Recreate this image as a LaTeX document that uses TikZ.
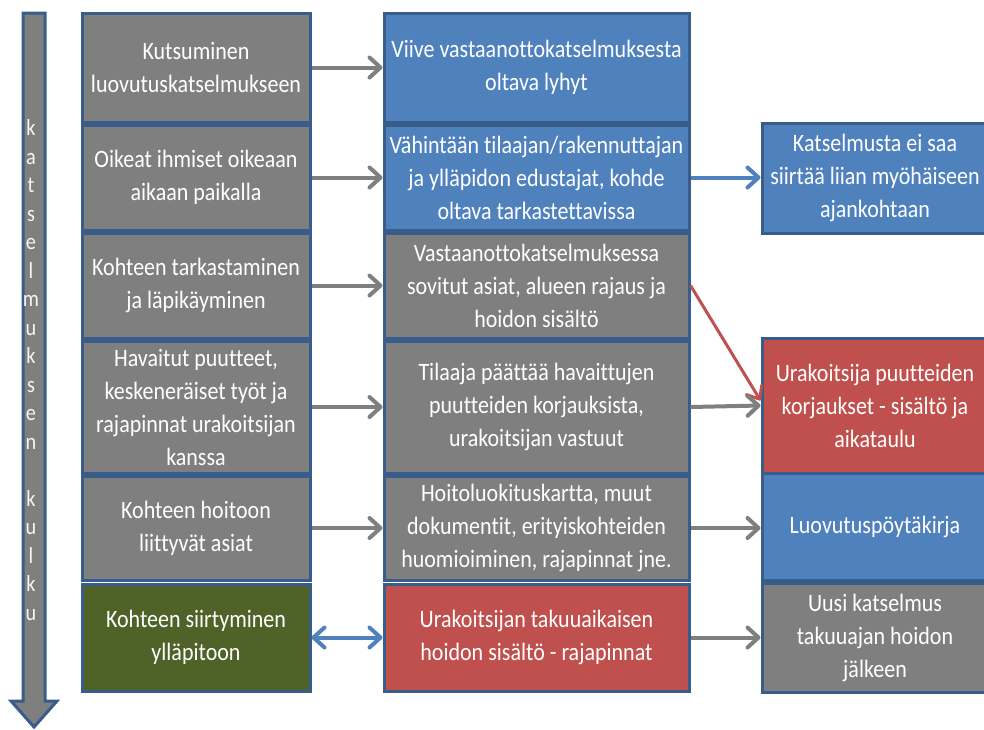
\documentclass[tikz,border=0pt]{standalone}
\usepackage{fontspec}
\setmainfont{Carlito}[FakeStretch=0.88, Ligatures={NoCommon}]
\usetikzlibrary{arrows.meta}
\definecolor{boxgray}{HTML}{7F7F7F}
\definecolor{boxblue}{HTML}{4F81BD}
\definecolor{boxred}{HTML}{C0504D}
\definecolor{boxgreen}{HTML}{4F6228}
\definecolor{edgeblue}{HTML}{385D8A}
\tikzset{
  barb/.tip={Straight Barb[length=11pt,width=20pt,line cap=round,line join=round]},
  thinbarb/.tip={Straight Barb[length=11pt,width=18pt,line cap=round,line join=round]},
}

\begin{document}
\begin{tikzpicture}[x=1pt,y=-1pt,
  stage/.style={draw=edgeblue, line width=3pt, text=white, align=center,
    inner sep=0pt, font=\fontsize{25}{33}\selectfont},
  col1/.style={stage, minimum width=228pt},
  col2/.style={stage, minimum width=305pt},
  col3/.style={stage, minimum width=226pt},
  flow/.style={draw=boxgray, line width=4pt, -{barb}},
  blueflow/.style={draw=boxblue, line width=4pt, -{barb}},
  bothflow/.style={draw=boxblue, line width=4pt, {barb}-{barb}},
  redflow/.style={draw=boxred, line width=3pt, -{thinbarb}},
]
\useasboundingbox (0,0) rectangle (984,729);

% timeline arrow on the left
\draw[fill=boxgray, draw=edgeblue, line width=3pt, line join=miter]
  (23,13) -- (45,13) -- (45,701) -- (57,701) -- (34,727) -- (11,701) -- (23,701) -- cycle;
\node[text=white!92!gray, align=center, inner sep=0pt,
      font=\fontsize{23}{28.5}\selectfont] (flowlabel) at (31,370)
  {k\\a\\t\\s\\e\\l\\m\\u\\k\\s\\e\\n\\[28.5pt]k\\u\\l\\k\\u};

% first column
\node[col1, fill=boxgray, minimum height=109pt] (a1) at (196,67.5)
  {Kutsuminen\\luovutuskatselmukseen};
\node[col1, fill=boxgray, minimum height=105pt] (a2) at (196,177.5)
  {Oikeat ihmiset oikeaan\\aikaan paikalla};
\node[col1, fill=boxgray, minimum height=105pt] (a3) at (196,285.5)
  {Kohteen tarkastaminen\\ja läpikäyminen};
\node[col1, fill=boxgray, minimum height=132pt] (a4) at (196,407)
  {Havaitut puutteet,\\keskeneräiset työt ja\\rajapinnat urakoitsijan\\kanssa};
\node[col1, fill=boxgray, minimum height=104pt] (a5) at (196,528)
  {Kohteen hoitoon\\liittyvät asiat};
\node[col1, fill=boxgreen, minimum height=107pt] (a6) at (196,637.5)
  {Kohteen siirtyminen\\ylläpitoon};

% second column
\node[col2, fill=boxblue, minimum height=109pt] (b1) at (536.5,67.5)
  {Viive vastaanottokatselmuksesta\\oltava lyhyt};
\node[col2, fill=boxblue, minimum height=105pt] (b2) at (536.5,177.5)
  {Vähintään tilaajan/rakennuttajan\\ja ylläpidon edustajat, kohde\\oltava tarkastettavissa};
\node[col2, fill=boxgray, minimum height=105pt] (b3) at (536.5,285.5)
  {Vastaanottokatselmuksessa\\sovitut asiat, alueen rajaus ja\\hoidon sisältö};
\node[col2, fill=boxgray, minimum height=132pt] (b4) at (536.5,407)
  {Tilaaja päättää havaittujen\\puutteiden korjauksista,\\urakoitsijan vastuut};
\node[col2, fill=boxgray, minimum height=104pt] (b5) at (536.5,528)
  {Hoitoluokituskartta, muut\\dokumentit, erityiskohteiden\\huomioiminen, rajapinnat jne.};
\node[col2, fill=boxred, minimum height=107pt] (b6) at (536.5,637.5)
  {Urakoitsijan takuuaikaisen\\hoidon sisältö - rajapinnat};

% third column
\node[col3, fill=boxblue, minimum height=110pt] (c2) at (875,178)
  {Katselmusta ei saa\\siirtää liian myöhäiseen\\ajankohtaan};
\node[col3, fill=boxred, minimum height=135pt] (c4) at (875,405.5)
  {Urakoitsija puutteiden\\korjaukset - sisältö ja\\aikataulu};
\node[col3, fill=boxblue, minimum height=107pt] (c5) at (875,526.5)
  {Luovutuspöytäkirja};
\node[col3, fill=boxgray, minimum height=109pt] (c6) at (875,637.5)
  {Uusi katselmus\\takuuajan hoidon\\jälkeen};

% connectors
\draw[flow] (a1.east) -- (b1.west);
\draw[flow] (a2.east) -- (b2.west);
\draw[flow] (a3.east) -- (b3.west);
\draw[flow] (a4.east) -- (b4.west);
\draw[flow] (a5.east) -- (b5.west);
\draw[bothflow] (a6.east) -- (b6.west);
\draw[blueflow] (b2.east) -- (b2.east -| c2.west);
\draw[redflow] (b3.east) -- ([yshift=5pt]c4.west);
\draw[flow] (b4.east) -- (c4.west);
\draw[flow] (b5.east) -- (b5.east -| c5.west);
\draw[flow] (b6.east) -- (c6.west);
\end{tikzpicture}
\end{document}
